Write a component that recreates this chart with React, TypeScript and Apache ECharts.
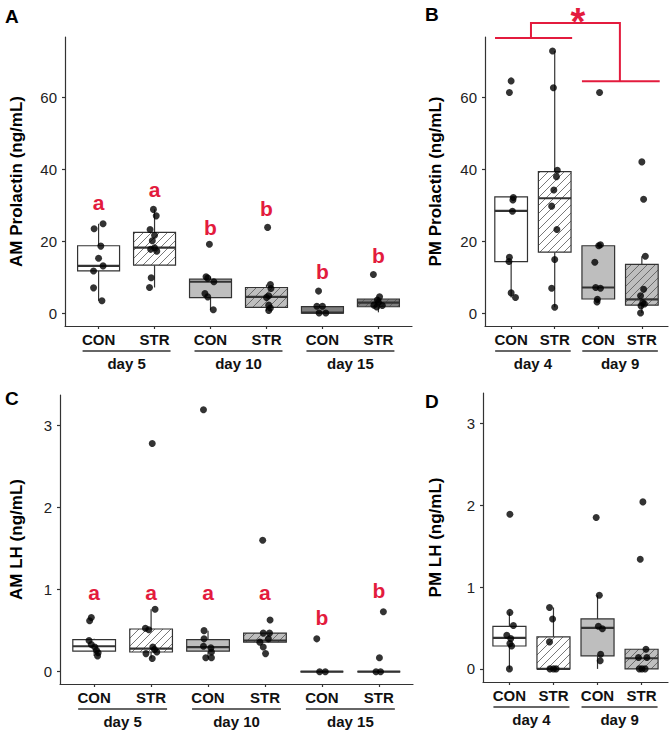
import React, { useEffect, useRef } from "react";
import * as echarts from "echarts";

const FONT = '"Liberation Sans", Arial, Helvetica, sans-serif';
const RED = "#e31b3d";
const INK = "#333333";
const WHITE = "#ffffff";
const LIGHT = "#bebebe";
const DARK = "#7f7f7f";

// ---------- categories ----------
const catsA = ["CON", "STR", "CON", "STR", "CON", "STR"];
const daysA = ["day 5", "day 10", "day 15"];
const catsB = ["CON", "STR", "CON", "STR"];
const daysB = ["day 4", "day 9"];
const ticksProlactin = [0, 20, 40, 60];
const ticksLH = [0, 1, 2, 3];

// ---------- Panel A : AM Prolactin ----------
// box: [low whisker, Q1, median, Q3, high whisker]
const boxA = [
  [3.4, 11.7, 13.1, 18.7, 24.8],
  [7.1, 13.3, 18.2, 22.4, 28.8],
  [0.9, 4.3, 8.7, 9.4, 10.1],
  [0.6, 1.6, 4.5, 7.1, 7.9],
  [0, 0, 0.1, 1.8, 1.9],
  [0.2, 1.75, 2.9, 3.9, 4.5],
];
const ptsA = [
  [24.8, 23.4, 18.6, 15.2, 13.1, 11.7, 7.0, 3.4],
  [28.8, 27.0, 23.2, 21.6, 20.1, 18.1, 17.7, 17.2, 9.8, 7.1],
  [19.1, 10.1, 9.7, 8.7, 5.4, 4.5, 0.9],
  [23.8, 7.9, 6.8, 4.8, 4.3, 2.2, 1.4, 0.7],
  [6.1, 1.9, 1.9, 0, 0],
  [10.7, 4.5, 3.6, 3.0, 2.2, 2.1, 1.7],
];
const jitA = [
  [0.08, -0.08, 0.04, 0.0, 0.08, -0.09, -0.09, 0.06],
  [-0.02, 0.03, -0.08, 0.0, -0.04, 0.0, -0.07, 0.04, -0.06, -0.09],
  [-0.02, -0.08, -0.05, 0.06, -0.1, -0.05, 0.05],
  [0.02, 0.07, 0.08, 0.04, 0.0, 0.04, 0.07, 0.04],
  [-0.07, -0.1, 0.0, -0.06, 0.06],
  [-0.09, 0.02, -0.02, 0.0, -0.08, 0.07, -0.03],
];
const lettersA = ["a", "a", "b", "b", "b", "b"];
const letterYA = [30.6, 34.2, 23.9, 29.1, 11.5, 16.1];

// ---------- Panel B : PM Prolactin ----------
const boxB = [
  [4.3, 14.3, 28.4, 32.3, 32.3],
  [1.6, 16.9, 31.9, 39.3, 72.8],
  [3.1, 3.9, 7.1, 18.7, 19.0],
  [0, 2.2, 3.8, 13.5, 15.8],
];
const ptsB = [
  [64.5, 61.3, 32.1, 31.4, 28.3, 15.5, 14.3, 5.6, 4.3],
  [72.8, 62.6, 39.7, 37.9, 34.2, 29.7, 23.2, 14.9, 6.9, 1.6],
  [61.3, 19.0, 18.7, 14.1, 7.1, 6.9, 3.8, 3.1],
  [42.0, 31.6, 15.8, 6.6, 4.8, 2.9, 2.0, 2.5, 0],
];
const jitB = [
  [0.0, -0.04, 0.05, 0.04, 0.03, -0.04, -0.05, 0.0, 0.1],
  [-0.05, -0.03, 0.06, 0.04, -0.02, -0.07, 0.05, 0.0, -0.07, 0.0],
  [0.03, 0.05, 0.01, -0.08, -0.06, 0.05, -0.02, -0.03],
  [0.0, 0.04, 0.08, 0.04, -0.03, 0.02, -0.02, 0.06, -0.03],
];
// significance bracket: [x start, x end, y]
const sigLeftBar = [0.63, 2.4, 76.4];
const sigRightBar = [2.625, 4.41, 64.4];
const sigTopBar = [1.455, 3.496, 80.6];
const sigStar = [2.53, 81.0];

// ---------- Panel C : AM LH ----------
const boxC = [
  [0.19, 0.25, 0.31, 0.39, 0.4],
  [0.16, 0.24, 0.28, 0.52, 0.76],
  [0.17, 0.25, 0.3, 0.39, 0.5],
  [0.36, 0.36, 0.38, 0.47, 0.47],
  [0, 0, 0, 0, 0],
  [0, 0, 0, 0, 0],
];
const ptsC = [
  [0.66, 0.62, 0.38, 0.33, 0.3, 0.26, 0.23, 0.19],
  [2.78, 0.76, 0.53, 0.51, 0.3, 0.27, 0.24, 0.22, 0.16],
  [3.19, 0.5, 0.4, 0.31, 0.29, 0.24, 0.17, 0.17],
  [1.6, 0.63, 0.47, 0.47, 0.4, 0.36, 0.3, 0.22],
  [0.4, 0, 0],
  [0.73, 0.17, 0, 0],
];
const jitC = [
  [-0.05, -0.08, -0.09, -0.05, 0.01, 0.04, 0.07, 0.06],
  [0.02, 0.07, -0.1, -0.04, 0.03, 0.06, 0.1, -0.09, 0.02],
  [-0.08, -0.07, -0.07, -0.08, 0.05, 0.06, -0.04, 0.06],
  [-0.04, 0.09, -0.03, 0.08, 0.06, -0.09, -0.03, 0.01],
  [-0.09, -0.04, 0.06],
  [0.08, 0.01, -0.05, 0.03],
];
const lettersC = ["a", "a", "a", "a", "b", "b"];
const letterYC = [0.96, 0.96, 0.96, 0.96, 0.66, 0.99];

// ---------- Panel D : PM LH ----------
const boxD = [
  [0, 0.28, 0.38, 0.52, 0.69],
  [0, 0, 0, 0.39, 0.75],
  [0, 0.16, 0.5, 0.61, 0.9],
  [0, 0, 0.13, 0.24, 0.24],
];
const ptsD = [
  [1.89, 0.69, 0.53, 0.41, 0.37, 0.31, 0.28, 0],
  [0.75, 0.61, 0.33, 0, 0, 0],
  [1.85, 0.9, 0.52, 0.49, 0.18, 0.1],
  [2.04, 1.34, 0.24, 0.14, 0.14, 0, 0, 0],
];
const jitD = [
  [0.01, 0.01, 0.09, -0.06, 0.03, 0.01, 0.05, 0.0],
  [-0.09, -0.02, -0.09, -0.08, 0.06, 0.0],
  [-0.03, 0.04, 0.02, 0.11, 0.07, 0.06],
  [0.03, -0.03, 0.1, -0.07, 0.12, 0.01, 0.08, -0.05],
];

// ---------- styles (per box) ----------
const fill6 = [WHITE, WHITE, LIGHT, LIGHT, DARK, DARK];
const hatch6 = [false, true, false, true, false, true];
const fill4 = [WHITE, WHITE, LIGHT, LIGHT];
const hatch4 = [false, true, false, true];

const BOX_W = 0.75;

type Panel = {
  label: string;
  labelPos: [number, number];
  grid: { left: number; top: number; width: number; height: number };
  cats: string[];
  days: string[];
  yMin: number;
  yMax: number;
  ticks: number[];
  title: string;
  nameGap: number;
  box: number[][];
  pts: number[][];
  jit: number[][];
  fills: string[];
  hatch: boolean[];
  letters?: string[];
  letterY?: number[];
};

const panels: Panel[] = [
  {
    label: "A", labelPos: [5, 7],
    grid: { left: 58, top: 37, width: 354, height: 289 },
    cats: catsA, days: daysA, yMin: -3.6, yMax: 76.7, ticks: ticksProlactin,
    title: "AM Prolactin (ng/mL)", nameGap: 40,
    box: boxA, pts: ptsA, jit: jitA, fills: fill6, hatch: hatch6,
    letters: lettersA, letterY: letterYA,
  },
  {
    label: "B", labelPos: [425, 5],
    grid: { left: 485, top: 37, width: 183, height: 289 },
    cats: catsB, days: daysB, yMin: -3.6, yMax: 76.7, ticks: ticksProlactin,
    title: "PM Prolactin (ng/mL)", nameGap: 41,
    box: boxB, pts: ptsB, jit: jitB, fills: fill4, hatch: hatch4,
  },
  {
    label: "C", labelPos: [5, 389],
    grid: { left: 53, top: 395, width: 360, height: 289 },
    cats: catsA, days: daysA, yMin: -0.15, yMax: 3.37, ticks: ticksLH,
    title: "AM LH (ng/mL)", nameGap: 35,
    box: boxC, pts: ptsC, jit: jitC, fills: fill6, hatch: hatch6,
    letters: lettersC, letterY: letterYC,
  },
  {
    label: "D", labelPos: [425, 392],
    grid: { left: 483, top: 393, width: 185, height: 289 },
    cats: catsB, days: daysB, yMin: -0.16, yMax: 3.37, ticks: ticksLH,
    title: "PM LH (ng/mL)", nameGap: 39,
    box: boxD, pts: ptsD, jit: jitD, fills: fill4, hatch: hatch4,
  },
];

function hatchSegments(x0: number, y0: number, x1: number, y1: number, step: number) {
  const segs: number[][] = [];
  const cStart = Math.ceil((x0 + y0) / step) * step;
  for (let c = cStart; c <= x1 + y1; c += step) {
    const xs = Math.max(x0, c - y1);
    const xe = Math.min(x1, c - y0);
    if (xe > xs + 0.3) segs.push([xs, c - xs, xe, c - xe]);
  }
  return segs;
}

function buildOption() {
  const grid: any[] = [];
  const xAxis: any[] = [];
  const yAxis: any[] = [];
  const series: any[] = [];
  const graphic: any[] = [];

  panels.forEach((p, g) => {
    const n = p.cats.length;
    const catVals = p.cats.map((_, i) => i + 1);
    grid.push({ ...p.grid, containLabel: false });
    xAxis.push({
      type: "value", gridIndex: g, min: 0.4, max: n + 0.6,
      axisLine: { show: true, onZero: false, lineStyle: { color: INK, width: 1.2 } },
      axisTick: { show: true, customValues: catVals, length: 3, lineStyle: { color: INK, width: 1.2 } },
      axisLabel: {
        show: true, customValues: catVals, margin: 6,
        formatter: (v: number) => p.cats[Math.round(v) - 1] ?? "",
        fontSize: 15, fontWeight: "bold", color: "#111", fontFamily: FONT,
      },
      splitLine: { show: false },
    });
    yAxis.push({
      type: "value", gridIndex: g, min: p.yMin, max: p.yMax,
      axisLine: { show: true, onZero: false, lineStyle: { color: INK, width: 1.2 } },
      axisTick: { show: true, customValues: p.ticks, length: 3, lineStyle: { color: INK, width: 1.2 } },
      axisLabel: { show: true, customValues: p.ticks, margin: 8, fontSize: 15, color: "#222", fontFamily: FONT },
      splitLine: { show: false },
      name: p.title, nameLocation: "middle", nameGap: p.nameGap,
      nameTextStyle: { fontSize: 17, fontWeight: "bold", color: "#000", fontFamily: FONT },
    });

    // boxes
    series.push({
      type: "custom", xAxisIndex: g, yAxisIndex: g, z: 2,
      data: p.box.map((b, i) => [i + 1, ...b]),
      encode: { x: 0, y: [1, 2, 3, 4, 5] },
      renderItem: (params: any, api: any) => {
        const i = params.dataIndex;
        const x = api.value(0);
        const lo = api.value(1), q1 = api.value(2), med = api.value(3), q3 = api.value(4), hi = api.value(5);
        const tl = api.coord([x - BOX_W / 2, q3]);
        const br = api.coord([x + BOX_W / 2, q1]);
        const cx = api.coord([x, med])[0];
        const yMed = api.coord([x, med])[1];
        const yLo = api.coord([x, lo])[1];
        const yHi = api.coord([x, hi])[1];
        const xl = tl[0], yt = tl[1], xr = br[0], yb = br[1];
        const children: any[] = [];
        const ln = { stroke: INK, lineWidth: 1.2 };
        if (yHi < yt) children.push({ type: "line", shape: { x1: cx, y1: yHi, x2: cx, y2: yt }, style: ln });
        if (yLo > yb) children.push({ type: "line", shape: { x1: cx, y1: yb, x2: cx, y2: yLo }, style: ln });
        children.push({ type: "rect", shape: { x: xl, y: yt, width: xr - xl, height: yb - yt }, style: { fill: p.fills[i], stroke: null } });
        if (p.hatch[i]) {
          hatchSegments(xl, yt, xr, yb, 8).forEach((s) => {
            children.push({ type: "line", shape: { x1: s[0], y1: s[1], x2: s[2], y2: s[3] }, style: { stroke: "#555", lineWidth: 0.8 } });
          });
        }
        children.push({ type: "rect", shape: { x: xl, y: yt, width: xr - xl, height: yb - yt }, style: { fill: null, stroke: INK, lineWidth: 1.2 } });
        children.push({ type: "line", shape: { x1: xl, y1: yMed, x2: xr, y2: yMed }, style: { stroke: INK, lineWidth: 2.2 } });
        return { type: "group", children };
      },
      clip: false,
    });

    // jittered points
    const pts: number[][] = [];
    p.pts.forEach((arr, i) => arr.forEach((v, j) => pts.push([i + 1 + p.jit[i][j], v])));
    series.push({
      type: "scatter", xAxisIndex: g, yAxisIndex: g, z: 5,
      data: pts, symbol: "circle", symbolSize: 7,
      itemStyle: { color: "#000" }, clip: false,
    });

    // group labels (underline + day)
    series.push({
      type: "custom", xAxisIndex: g, yAxisIndex: g, z: 3, clip: false,
      data: p.days.map((_, i) => [2 * i + 1.5, 0]),
      encode: { x: 0, y: 1 },
      renderItem: (params: any, api: any) => {
        const i = params.dataIndex;
        const a = api.coord([2 * i + 1, p.yMin]);
        const b = api.coord([2 * i + 2, p.yMin]);
        const y0 = a[1];
        return {
          type: "group",
          children: [
            { type: "line", shape: { x1: a[0] - 16, y1: y0 + 25, x2: b[0] + 16, y2: y0 + 25 }, style: { stroke: INK, lineWidth: 1.3 } },
            { type: "text", x: (a[0] + b[0]) / 2, y: y0 + 37, style: { text: p.days[i], fill: "#111", font: `bold 15px ${FONT}`, align: "center", verticalAlign: "middle" } },
          ],
        };
      },
    });

    // significance letters
    if (p.letters && p.letterY) {
      const L = p.letters;
      series.push({
        type: "custom", xAxisIndex: g, yAxisIndex: g, z: 6, clip: false,
        data: p.letterY.map((y, i) => [i + 1, y]),
        encode: { x: 0, y: 1 },
        renderItem: (params: any, api: any) => {
          const c = api.coord([api.value(0), api.value(1)]);
          return { type: "text", x: c[0], y: c[1], style: { text: L[params.dataIndex], fill: RED, font: `bold 21px ${FONT}`, align: "center", verticalAlign: "middle" } };
        },
      });
    }

    graphic.push({
      type: "text", left: p.labelPos[0], top: p.labelPos[1],
      style: { text: p.label, font: `bold 19px ${FONT}`, fill: "#000" },
    });
  });

  // bracket on panel B
  series.push({
    type: "custom", xAxisIndex: 1, yAxisIndex: 1, z: 6, clip: false,
    data: [[2.5, 60]],
    encode: { x: 0, y: 1 },
    renderItem: (_params: any, api: any) => {
      const c = (x: number, y: number) => api.coord([x, y]);
      const st = { stroke: RED, lineWidth: 2, fill: null };
      const L1 = c(sigLeftBar[0], sigLeftBar[2]), L2 = c(sigLeftBar[1], sigLeftBar[2]);
      const R1 = c(sigRightBar[0], sigRightBar[2]), R2 = c(sigRightBar[1], sigRightBar[2]);
      const T1 = c(sigTopBar[0], sigTopBar[2]), T2 = c(sigTopBar[1], sigTopBar[2]);
      const lm = c(sigTopBar[0], sigLeftBar[2]);
      const rm = c(sigTopBar[1], sigRightBar[2]);
      const s = c(sigStar[0], sigStar[1]);
      return {
        type: "group",
        children: [
          { type: "line", shape: { x1: L1[0], y1: L1[1], x2: L2[0], y2: L2[1] }, style: st },
          { type: "line", shape: { x1: R1[0], y1: R1[1], x2: R2[0], y2: R2[1] }, style: st },
          { type: "polyline", shape: { points: [lm, T1, T2, rm] }, style: st },
          { type: "text", x: s[0], y: s[1], style: { text: "*", fill: RED, font: `bold 38px ${FONT}`, align: "center", verticalAlign: "middle" } },
        ],
      };
    },
  });

  return { animation: false, backgroundColor: "#ffffff", grid, xAxis, yAxis, series, graphic };
}

export default function App() {
  const ref = useRef<HTMLDivElement>(null);
  useEffect(() => {
    if (!ref.current) return;
    const chart = echarts.init(ref.current, undefined, { renderer: "svg" });
    chart.setOption(buildOption() as any);
    return () => chart.dispose();
  }, []);
  return (
    <div
      ref={ref}
      style={{ position: "absolute", left: 0, top: 0, width: 671, height: 732, background: "#fff" }}
    />
  );
}
